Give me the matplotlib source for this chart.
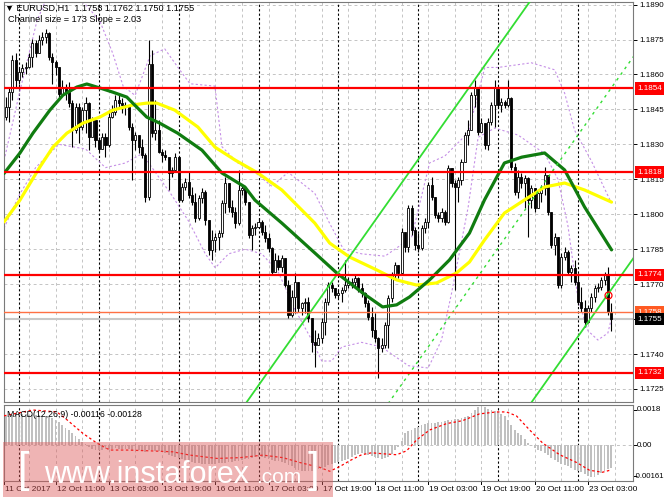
import matplotlib.pyplot as plt
from matplotlib.patches import Rectangle
from matplotlib.transforms import blended_transform_factory
import numpy as np

plt.rcParams['font.family'] = ['Liberation Sans', 'DejaVu Sans']

# EURUSD H1, bar 0 = 12 Oct 2017 00:00 (weekend hours skipped)
first_bar = -4
first_open = 1.18418
close = [1.18461, 1.18525, 1.18661, 1.18576, 1.18611, 1.18626, 1.18633, 1.18676,
         1.18733, 1.18690, 1.18747, 1.18762, 1.18776, 1.18676, 1.18654, 1.18633,
         1.18518, 1.18547, 1.18525, 1.18476, 1.18361, 1.18461, 1.18375, 1.18447,
         1.18476, 1.18333, 1.18404, 1.18318, 1.18282, 1.18333, 1.18297, 1.18418,
         1.18440, 1.18490, 1.18476, 1.18468, 1.18461, 1.18375, 1.18318, 1.18340,
         1.18290, 1.18254, 1.18075, 1.18647, 1.18347, 1.18361, 1.18268, 1.18254,
         1.18247, 1.18175, 1.18190, 1.18247, 1.18061, 1.18118, 1.18139, 1.18082,
         1.18054, 1.17982, 1.18068, 1.18097, 1.17975, 1.17846, 1.17889, 1.17904,
         1.17918, 1.18047, 1.18132, 1.18032, 1.18011, 1.17961, 1.18104, 1.18111,
         1.18054, 1.17911, 1.17939, 1.17946, 1.17968, 1.17925, 1.17897, 1.17854,
         1.17754, 1.17803, 1.17775, 1.17811, 1.17696, 1.17568, 1.17646, 1.17711,
         1.17596, 1.17618, 1.17625, 1.17553, 1.17453, 1.17439, 1.17468, 1.17539,
         1.17625, 1.17696, 1.17682, 1.17654, 1.17661, 1.17675, 1.17696, 1.17703,
         1.17711, 1.17725, 1.17682, 1.17661, 1.17618, 1.17560, 1.17503, 1.17468,
         1.17425, 1.17439, 1.17525, 1.17639, 1.17739, 1.17782, 1.17746, 1.17925,
         1.17861, 1.18025, 1.17932, 1.17868, 1.17854, 1.17939, 1.17968, 1.18125,
         1.18075, 1.17997, 1.17982, 1.18011, 1.17968, 1.18197, 1.18132, 1.18118,
         1.18147, 1.18225, 1.18340, 1.18361, 1.18511, 1.18540, 1.18354, 1.18390,
         1.18297, 1.18397, 1.18468, 1.18540, 1.18468, 1.18483, 1.18468, 1.18497,
         1.18204, 1.18097, 1.18161, 1.18132, 1.18154, 1.18061, 1.18111, 1.18025,
         1.18089, 1.18111, 1.18168, 1.18011, 1.17868, 1.17904, 1.17696, 1.17818,
         1.17839, 1.17754, 1.17768, 1.17711, 1.17625, 1.17596, 1.17539, 1.17596,
         1.17646, 1.17682, 1.17689, 1.17718, 1.17739, 1.17580, 1.17550]
high = [1.18504, 1.18547, 1.18683, 1.18690, 1.18626, 1.18647, 1.18654, 1.18690,
        1.18754, 1.18747, 1.18769, 1.18783, 1.18797, 1.18783, 1.18690, 1.18661,
        1.18633, 1.18576, 1.18561, 1.18568, 1.18490, 1.18476, 1.18476, 1.18461,
        1.18504, 1.18483, 1.18418, 1.18354, 1.18333, 1.18347, 1.18347, 1.18447,
        1.18468, 1.18511, 1.18511, 1.18497, 1.18483, 1.18468, 1.18390, 1.18354,
        1.18333, 1.18325, 1.18261, 1.18747, 1.18704, 1.18490, 1.18404, 1.18282,
        1.18275, 1.18232, 1.18204, 1.18261, 1.18247, 1.18132, 1.18154, 1.18182,
        1.18118, 1.18089, 1.18082, 1.18111, 1.18104, 1.17975, 1.17932, 1.17918,
        1.17932, 1.18061, 1.18161, 1.18132, 1.18061, 1.18032, 1.18190, 1.18125,
        1.18118, 1.18054, 1.17954, 1.17961, 1.17982, 1.17975, 1.17954, 1.17918,
        1.17861, 1.17832, 1.17825, 1.17825, 1.17811, 1.17718, 1.17675, 1.17746,
        1.17711, 1.17625, 1.17639, 1.17646, 1.17553, 1.17503, 1.17489, 1.17553,
        1.17639, 1.17711, 1.17711, 1.17682, 1.17675, 1.17689, 1.17803, 1.17732,
        1.17725, 1.17739, 1.17732, 1.17703, 1.17668, 1.17632, 1.17603, 1.17575,
        1.17475, 1.17468, 1.17539, 1.17654, 1.17754, 1.17796, 1.17782, 1.17939,
        1.17882, 1.18039, 1.18039, 1.17946, 1.17918, 1.17954, 1.17982, 1.18139,
        1.18161, 1.18075, 1.18011, 1.18025, 1.18018, 1.18211, 1.18197, 1.18147,
        1.18161, 1.18239, 1.18354, 1.18404, 1.18525, 1.18576, 1.18547, 1.18411,
        1.18390, 1.18411, 1.18483, 1.18576, 1.18547, 1.18497, 1.18490, 1.18576,
        1.18504, 1.18218, 1.18190, 1.18175, 1.18168, 1.18161, 1.18125, 1.18111,
        1.18104, 1.18125, 1.18204, 1.18168, 1.18011, 1.17918, 1.17904, 1.17832,
        1.17861, 1.17846, 1.17782, 1.17803, 1.17746, 1.17689, 1.17632, 1.17611,
        1.17661, 1.17696, 1.17703, 1.17732, 1.17754, 1.17775, 1.17620]
low = [1.18404, 1.18397, 1.18490, 1.18547, 1.18561, 1.18590, 1.18604, 1.18626,
       1.18633, 1.18676, 1.18690, 1.18726, 1.18733, 1.18661, 1.18561, 1.18597,
       1.18504, 1.18511, 1.18490, 1.18461, 1.18290, 1.18347, 1.18304, 1.18361,
       1.18347, 1.18275, 1.18333, 1.18290, 1.18268, 1.18282, 1.18247, 1.18290,
       1.18411, 1.18425, 1.18454, 1.18433, 1.18425, 1.18361, 1.18147, 1.18275,
       1.18261, 1.18240, 1.18054, 1.18061, 1.18333, 1.18318, 1.18261, 1.18225,
       1.18232, 1.18104, 1.18161, 1.18182, 1.18054, 1.18054, 1.18104, 1.18068,
       1.18039, 1.17968, 1.17975, 1.18047, 1.17954, 1.17825, 1.17803, 1.17839,
       1.17846, 1.17904, 1.18004, 1.18011, 1.17989, 1.17939, 1.17954, 1.18082,
       1.18039, 1.17897, 1.17846, 1.17911, 1.17939, 1.17911, 1.17882, 1.17839,
       1.17739, 1.17768, 1.17761, 1.17754, 1.17689, 1.17553, 1.17560, 1.17575,
       1.17582, 1.17568, 1.17575, 1.17539, 1.17410, 1.17346, 1.17439, 1.17446,
       1.17482, 1.17611, 1.17668, 1.17639, 1.17639, 1.17625, 1.17668, 1.17682,
       1.17682, 1.17689, 1.17668, 1.17646, 1.17603, 1.17546, 1.17475, 1.17453,
       1.17296, 1.17410, 1.17425, 1.17425, 1.17625, 1.17725, 1.17725, 1.17739,
       1.17839, 1.17839, 1.17911, 1.17846, 1.17839, 1.17846, 1.17918, 1.17939,
       1.18061, 1.17982, 1.17968, 1.17968, 1.17954, 1.17961, 1.18118, 1.17675,
       1.18054, 1.18125, 1.18225, 1.18297, 1.18411, 1.18461, 1.18340, 1.18354,
       1.18282, 1.18275, 1.18382, 1.18375, 1.18454, 1.18440, 1.18454, 1.18461,
       1.18190, 1.18082, 1.18068, 1.18111, 1.18025, 1.17904, 1.18025, 1.18011,
       1.18054, 1.18054, 1.18082, 1.17997, 1.17854, 1.17825, 1.17682, 1.17682,
       1.17803, 1.17739, 1.17711, 1.17696, 1.17611, 1.17582, 1.17518, 1.17532,
       1.17582, 1.17625, 1.17668, 1.17675, 1.17696, 1.17568, 1.17500]

# moving averages (read at points along the curves)
ma_green_x = [-4.5, 0.3, 4.2, 9.3, 13.2, 17.4, 20.4, 24.3, 28.2, 32.4, 34.2, 38.4,
              42.3, 47.7, 55.0, 61.0, 67.9, 70.9, 79.0, 88.9, 95.5, 103.3, 109.3,
              113.5, 117.4, 123.4, 129.4, 135.4, 139.9, 145.9, 151.1, 158.0, 164.0,
              170.0, 178.1]
ma_green_y = [1.18175, 1.18263, 1.18348, 1.18447, 1.18511, 1.18546, 1.18559, 1.18542,
              1.18524, 1.18503, 1.18477, 1.18417, 1.18391, 1.18348, 1.18275, 1.18177,
              1.18117, 1.18061, 1.17962, 1.17834, 1.17748, 1.17662, 1.17602, 1.17611,
              1.17645, 1.17718, 1.17804, 1.17919, 1.18061, 1.18220, 1.18245, 1.18263,
              1.18190, 1.18031, 1.17847]
ma_yellow_x = [-4.5, 0.3, 6.3, 10.2, 14.4, 19.2, 24.3, 28.2, 34.2, 38.4, 41.4, 46.8,
               53.8, 58.9, 64.9, 71.8, 79.0, 85.0, 88.9, 93.4, 99.4, 107.5, 113.5,
               119.5, 125.5, 131.5, 135.4, 139.9, 145.9, 151.9, 158.0, 164.0, 170.0,
               178.1]
ma_yellow_y = [1.17967, 1.18061, 1.18203, 1.18288, 1.18348, 1.18391, 1.18417, 1.18447,
               1.18469, 1.18477, 1.18477, 1.18447, 1.18374, 1.18288, 1.18233, 1.18177,
               1.18104, 1.18018, 1.17962, 1.17876, 1.17816, 1.17761, 1.17718, 1.17696,
               1.17705, 1.17748, 1.17795, 1.17889, 1.18005, 1.18061, 1.18117, 1.18134,
               1.18104, 1.18052]

# envelope bands (violet dotted)
band_up_x = [-4.5, 0.3, 5.4, 9, 15, 20, 24.3, 28.2, 31.3, 34.9, 39.4, 43.8, 47.8, 51.4,
             58.9, 61, 65.8, 70.9, 76, 80.9, 88.9, 93.4, 97.5, 103, 110, 118, 123.4,
             128, 135, 140, 144, 154, 161, 164, 167, 172, 176, 178]
band_up_y = [1.18230, 1.18530, 1.18830, 1.18950, 1.18960, 1.18900, 1.18830, 1.18690,
             1.18550, 1.18510, 1.18680, 1.18710, 1.18630, 1.18560, 1.18550, 1.18290,
             1.18220, 1.18180, 1.18120, 1.18180, 1.18090, 1.17960, 1.17850, 1.17830,
             1.17820, 1.17900, 1.18220, 1.18250, 1.18350, 1.18630, 1.18630, 1.18650,
             1.18620, 1.18520, 1.18360, 1.18230, 1.18110, 1.18050]
band_dn_x = [-4.5, 0, 5, 12, 20, 26, 32, 37, 41, 46, 51, 56, 59, 63, 68, 73, 78, 83, 88,
             91, 94, 97, 103, 109, 117, 123, 127, 130, 135, 138, 143, 150, 158, 162,
             165, 168, 171, 174, 177, 178]
band_dn_y = [1.17940, 1.18080, 1.18200, 1.18300, 1.18280, 1.18200, 1.18220, 1.18260,
             1.18180, 1.18080, 1.17970, 1.17830, 1.17770, 1.17830, 1.17850, 1.17830,
             1.17750, 1.17590, 1.17460, 1.17370, 1.17370, 1.17430, 1.17450, 1.17430,
             1.17350, 1.17340, 1.17460, 1.17660, 1.18030, 1.18330, 1.18370, 1.18340,
             1.18260, 1.18150, 1.17950, 1.17640, 1.17500, 1.17460, 1.17490, 1.17550]

# regression channel (middle line end points, half width)
chan_x = [60, 185]
chan_mid = [1.16158, 1.18683]
chan_half = 0.00865

levels_red = [1.1854, 1.1818, 1.1774, 1.1732]
level_orange = 1.1758
bid = 1.1755

# MACD(12,26,9)
macd_hist = [0.00150, 0.00150, 0.00155, 0.00160, 0.00160, 0.00160, 0.00160, 0.00155,
             0.00155, 0.00155, 0.00155, 0.00150, 0.00150, 0.00145, 0.00140, 0.00130,
             0.00120, 0.00105, 0.00090, 0.00075, 0.00060, 0.00045, 0.00030, 0.00015,
             0.00003, -0.00008, -0.00018, -0.00024, -0.00026, -0.00025, -0.00023, -0.00020,
             -0.00018, -0.00017, -0.00018, -0.00020, -0.00022, -0.00023, -0.00025, -0.00026,
             -0.00028, -0.00030, -0.00035, -0.00025, -0.00028, -0.00030, -0.00033, -0.00038,
             -0.00043, -0.00050, -0.00056, -0.00060, -0.00068, -0.00073, -0.00077, -0.00082,
             -0.00086, -0.00090, -0.00094, -0.00097, -0.00100, -0.00100, -0.00098, -0.00096,
             -0.00095, -0.00093, -0.00090, -0.00088, -0.00087, -0.00084, -0.00080, -0.00076,
             -0.00073, -0.00070, -0.00066, -0.00063, -0.00060, -0.00062, -0.00065, -0.00070,
             -0.00076, -0.00080, -0.00083, -0.00085, -0.00093, -0.00103, -0.00110, -0.00120,
             -0.00130, -0.00132, -0.00134, -0.00135, -0.00134, -0.00132, -0.00125, -0.00120,
             -0.00112, -0.00105, -0.00100, -0.00094, -0.00088, -0.00083, -0.00077, -0.00070,
             -0.00062, -0.00053, -0.00045, -0.00043, -0.00046, -0.00050, -0.00056, -0.00063,
             -0.00069, -0.00070, -0.00065, -0.00060, -0.00045, -0.00025, -0.00010, 0.00020,
             0.00060, 0.00070, 0.00077, 0.00085, 0.00095, 0.00103, 0.00110, 0.00113,
             0.00115, 0.00115, 0.00117, 0.00120, 0.00123, 0.00126, 0.00130, 0.00132,
             0.00135, 0.00140, 0.00145, 0.00150, 0.00165, 0.00180, 0.00195, 0.00200,
             0.00195, 0.00185, 0.00180, 0.00175, 0.00168, 0.00160, 0.00150, 0.00130,
             0.00105, 0.00077, 0.00060, 0.00050, 0.00030, 0.00010, -0.00003, -0.00015,
             -0.00025, -0.00032, -0.00040, -0.00052, -0.00065, -0.00077, -0.00088, -0.00098,
             -0.00105, -0.00110, -0.00120, -0.00130, -0.00136, -0.00140, -0.00150, -0.00160,
             -0.00165, -0.00165, -0.00155, -0.00145, -0.00135, -0.00125, -0.00116]
signal_x = [-4.5, 4.2, 11.4, 14.4, 19.2, 23.4, 27.3, 32.4, 39.3, 46.2, 51.4, 59.5, 66.4,
            73.3, 79.3, 84.4, 90.4, 93.4, 96.5, 99.5, 103, 106, 109.3, 113.5, 116.5,
            119.5, 123.4, 128.5, 133.3, 138.4, 143.5, 146.5, 149.5, 153.5, 157.4, 162.5,
            167.6, 171.5, 175.4, 178]
signal_y = [0.00150, 0.00180, 0.00170, 0.00130, 0.00060, 0.00010, -0.00026, -0.00026,
            -0.00030, -0.00035, -0.00052, -0.00069, -0.00065, -0.00052, -0.00065, -0.00090,
            -0.00115, -0.00135, -0.00110, -0.00080, -0.00050, -0.00040, -0.00045, -0.00050,
            -0.00030, 0.00026, 0.00077, 0.00110, 0.00125, 0.00160, 0.00170, 0.00170,
            0.00150, 0.00077, 0.00010, -0.00050, -0.00090, -0.00130, -0.00140, -0.00128]
macd_ticks = [0.0018, 0.0, -0.00161]
macd_tick_text = ['0.0018', '0.00', '-0.00161']

tick_bars = [-4.4, 11, 27, 43, 59, 75, 91, 107, 123, 139, 155, 171]
tick_text = ['11 Oct 2017', '12 Oct 11:00', '13 Oct 03:00', '13 Oct 19:00',
             '16 Oct 11:00', '17 Oct 03:00', '17 Oct 19:00', '18 Oct 11:00',
             '19 Oct 03:00', '19 Oct 19:00', '20 Oct 11:00', '23 Oct 03:00']
day_starts = [0, 24, 48, 72, 96, 120, 144, 168]

W, H = 665, 499
fig = plt.figure(figsize=(W / 100, H / 100), dpi=100)
fig.patch.set_facecolor('white')


def fx(px):
    return px / W


def fy(py):
    return 1 - py / H


ax = fig.add_axes([fx(4), fy(402), fx(629), 400 / H])
axm = fig.add_axes([fx(4), fy(481), fx(629), 76 / H])

xlo, xhi = -4.5, 184.55
for a in (ax, axm):
    a.set_xlim(xlo, xhi)
    for s in a.spines.values():
        s.set_color('#7a7a7a')
        s.set_linewidth(0.8)
    a.set_xticks([])
    a.yaxis.tick_right()
    a.tick_params(axis='y', length=3, width=0.7, colors='black', labelsize=5.8, pad=1.5)
    # grid + day separators
    for g in range(3, 185, 8):
        a.axvline(g, color='#c4c4c4', lw=0.7, ls=(0, (3, 3)), zorder=0)
    for d in day_starts:
        a.axvline(d, color='black', lw=0.8, ls=(0, (2, 2)), zorder=0.5)

ax.set_ylim(1.17194, 1.18911)
yt = [1.1725 + 0.0015 * k for k in range(12)]
ax.set_yticks(yt)
ax.set_yticklabels(['%.4f' % v for v in yt])
for v in yt:
    ax.axhline(v, color='#c4c4c4', lw=0.7, ls=(0, (3, 3)), zorder=0)

# candles
n = len(close)
bars = np.arange(first_bar, first_bar + n)
opens = np.array([first_open] + close[:-1])
cl = np.array(close)
ax.vlines(bars, low, high, color='black', lw=0.8, zorder=3)
up = cl >= opens
ax.bar(bars[up], cl[up] - opens[up], bottom=opens[up], width=0.62,
       color='white', edgecolor='black', linewidth=0.6, zorder=4)
ax.bar(bars[~up], cl[~up] - opens[~up], bottom=opens[~up], width=0.62,
       color='black', edgecolor='black', linewidth=0.6, zorder=4)

# indicators
ax.plot(band_up_x, band_up_y, color='#c58fe6', lw=0.8, ls=(0, (2, 2)), zorder=2)
ax.plot(band_dn_x, band_dn_y, color='#c58fe6', lw=0.8, ls=(0, (2, 2)), zorder=2)
ax.plot(ma_yellow_x, ma_yellow_y, color='#ffff00', lw=2.3, zorder=5,
        solid_capstyle='round', solid_joinstyle='round')
ax.plot(ma_green_x, ma_green_y, color='#107c10', lw=2.3, zorder=5,
        solid_capstyle='round', solid_joinstyle='round')

cm = np.array(chan_mid)
ax.plot(chan_x, cm + chan_half, color='#33dd33', lw=1.3, zorder=5)
ax.plot(chan_x, cm - chan_half, color='#33dd33', lw=1.3, zorder=5)
ax.plot(chan_x, cm, color='#33dd33', lw=1.0, ls=(0, (2, 3)), zorder=5)

for lv in levels_red:
    ax.axhline(lv, color='#ff0000', lw=1.6, zorder=6)
ax.axhline(level_orange, color='#ff7043', lw=1.0, zorder=6)
ax.axhline(bid, color='#c8c8c8', lw=1.5, zorder=1)
ax.plot([177], [1.17653], marker='o', ms=5, mfc='none', mec='red', mew=0.9, zorder=7)

# right-hand price boxes
tr = blended_transform_factory(ax.transAxes, ax.transData)
boxes = [(1.1854, '#ff0000'), (1.1818, '#ff0000'), (1.1774, '#ff0000'),
         (1.1758, '#ff5a22'), (bid, '#000000'), (1.1732, '#ff0000')]
for v, c in boxes:
    ax.text(1.0065, v, '%.4f' % v, transform=tr, fontsize=5.8, color='white',
            va='center', ha='left', zorder=10, clip_on=False,
            bbox=dict(boxstyle='square,pad=0.32', fc=c, ec='none'))

# MACD panel
axm.set_ylim(-0.001851, 0.002057)
axm.set_yticks(macd_ticks)
axm.set_yticklabels([])
trr = blended_transform_factory(fig.transFigure, axm.transData)
for v, t in zip(macd_ticks, macd_tick_text):
    if t.startswith('-'):
        axm.text(fx(664.5), v, t, transform=trr, fontsize=5.6, ha='right', va='center',
                 clip_on=False)
    else:
        axm.text(fx(637), v, t, transform=trr, fontsize=5.8, ha='left', va='center',
                 clip_on=False)
axm.axhline(0, color='#c4c4c4', lw=0.7, ls=(0, (3, 3)), zorder=0)
axm.bar(bars, macd_hist, width=0.55, color='#c0c0c0', zorder=2)
axm.plot(signal_x, signal_y, color='#ff0000', lw=0.9, ls=(0, (2, 2)), zorder=3)
axm.text(0.004, 0.93, 'MACD(12,26,9) -0.00116 -0.00128', transform=axm.transAxes,
         fontsize=6.3, va='top', ha='left', zorder=4)

# time axis
trm = blended_transform_factory(axm.transData, axm.transAxes)
for b, t in zip(tick_bars, tick_text):
    axm.plot([b, b], [0, -0.04], color='black', lw=0.7, transform=trm, clip_on=False)
    axm.text(b + 0.3, -0.07, t, transform=trm, fontsize=6, ha='left', va='top',
             clip_on=False)

# header
fig.text(fx(5), fy(8), '\u25bc EURUSD,H1  1.1758 1.1762 1.1750 1.1755', fontsize=6.6,
         va='center', ha='left')
fig.text(fx(8), fy(19), 'Channel size = 173 Slope = 2.03', fontsize=6.6,
         va='center', ha='left')

# watermark
fig.patches.append(Rectangle((fx(3), fy(497)), fx(330), 55 / H, transform=fig.transFigure,
                             fc='#dd5a5a', ec='none', alpha=0.45, zorder=20))
wm_font = ['Liberation Sans', 'DejaVu Sans']
fig.text(fx(18), fy(471), '[', fontsize=30, color='white', family=wm_font,
         va='center', ha='left', zorder=21)
fig.text(fx(44), fy(483), 'www.instaforex', fontsize=22, color='white', family=wm_font,
         va='baseline', ha='left', zorder=21)
fig.text(fx(256), fy(483), '.com', fontsize=15, color='white', family=wm_font,
         va='baseline', ha='left', zorder=21)
fig.text(fx(308), fy(471), ']', fontsize=30, color='white', family=wm_font,
         va='center', ha='left', zorder=21)

fig.savefig('out.png', dpi=100, facecolor='white')
